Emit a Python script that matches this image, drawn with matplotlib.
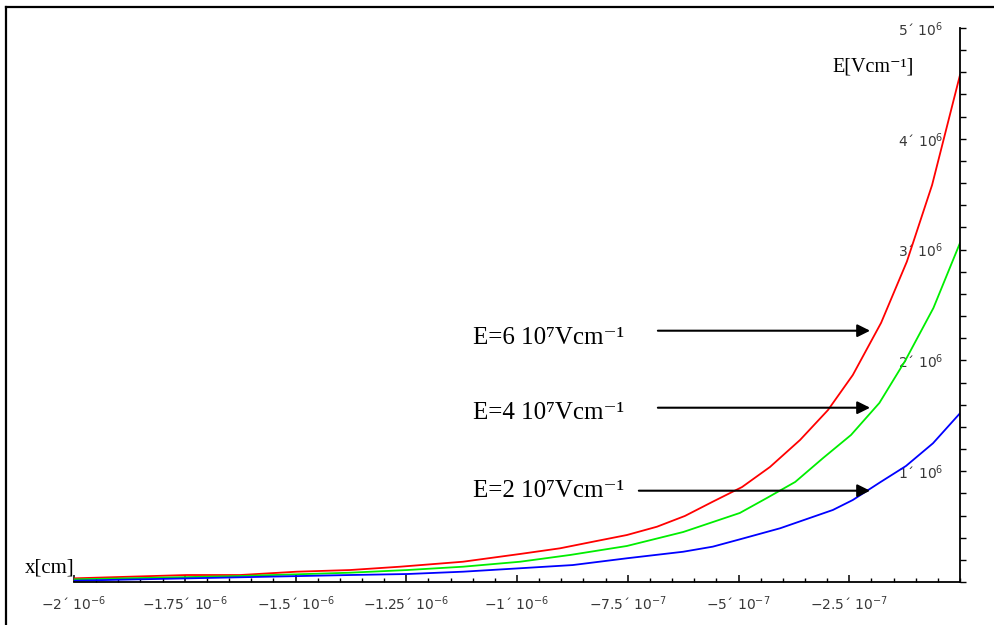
import matplotlib
matplotlib.use("Agg")
import matplotlib.pyplot as plt
from matplotlib.lines import Line2D
from matplotlib.ticker import MultipleLocator

# field profiles E(x) near the surface, three applied fields
x_red = [-2.000, -1.745, -1.625, -1.497, -1.377, -1.264, -1.122, -0.993, -0.903,
         -0.828, -0.752, -0.684, -0.621, -0.558, -0.492, -0.429, -0.361, -0.298,
         -0.242, -0.178, -0.120, -0.063, 0.0]
E_red = [0.033, 0.063, 0.063, 0.093, 0.108, 0.138, 0.183, 0.253, 0.304,
         0.364, 0.424, 0.499, 0.596, 0.725, 0.857, 1.038, 1.282, 1.552,
         1.868, 2.340, 2.891, 3.583, 4.576]

x_green = [-2.000, -1.625, -1.377, -1.248, -1.122, -0.993, -0.880, -0.752, -0.625,
           -0.497, -0.436, -0.372, -0.309, -0.246, -0.182, -0.124, -0.060, 0.0]
E_green = [0.024, 0.054, 0.084, 0.108, 0.138, 0.183, 0.244, 0.325, 0.451,
           0.623, 0.758, 0.903, 1.119, 1.327, 1.616, 1.995, 2.473, 3.060]

x_blue = [-2.000, -1.377, -1.248, -1.122, -0.993, -0.874, -0.752, -0.625, -0.558,
          -0.497, -0.406, -0.287, -0.242, -0.181, -0.122, -0.061, 0.0]
E_blue = [0.012, 0.063, 0.072, 0.093, 0.124, 0.153, 0.214, 0.273, 0.319,
          0.385, 0.485, 0.650, 0.740, 0.898, 1.047, 1.252, 1.523]

x_ticks = [-2e-6, -1.75e-6, -1.5e-6, -1.25e-6, -1e-6, -7.5e-7, -5e-7, -2.5e-7]
x_tick_text = ["\u22122\u00b4 10$^{-6}$", "\u22121.75\u00b4 10$^{-6}$",
               "\u22121.5\u00b4 10$^{-6}$", "\u22121.25\u00b4 10$^{-6}$",
               "\u22121\u00b4 10$^{-6}$", "\u22127.5\u00b4 10$^{-7}$",
               "\u22125\u00b4 10$^{-7}$", "\u22122.5\u00b4 10$^{-7}$"]
y_ticks = [1e6, 2e6, 3e6, 4e6, 5e6]
y_tick_text = ["1\u00b4 10$^{6}$", "2\u00b4 10$^{6}$", "3\u00b4 10$^{6}$",
               "4\u00b4 10$^{6}$", "5\u00b4 10$^{6}$"]

labels = ["E=6 10\u2077Vcm\u207b\u00b9", "E=4 10\u2077Vcm\u207b\u00b9", "E=2 10\u2077Vcm\u207b\u00b9"]

W, H = 994, 625
fig = plt.figure(figsize=(W / 100, H / 100), dpi=100)
ax = fig.add_axes([74 / W, (H - 582) / H, (960 - 74) / W, (582 - 28) / H])

ax.plot([v * 1e-6 for v in x_red], [v * 1e6 for v in E_red], color="#ff0000", lw=1.3)
ax.plot([v * 1e-6 for v in x_green], [v * 1e6 for v in E_green], color="#00ee00", lw=1.3)
ax.plot([v * 1e-6 for v in x_blue], [v * 1e6 for v in E_blue], color="#0000ff", lw=1.3)

ax.set_xlim(-2e-6, 0)
ax.set_ylim(0, 5e6)
for s in ("top", "left"):
    ax.spines[s].set_visible(False)
for s in ("bottom", "right"):
    ax.spines[s].set_linewidth(1.3)

# x axis: ticks point up, labels below
ax.set_xticks(x_ticks)
ax.set_xticklabels(x_tick_text)
ax.xaxis.set_minor_locator(MultipleLocator(5e-8))
ax.tick_params(axis="x", which="major", direction="in", length=5, width=1.1,
               pad=9, labelsize=10, labelcolor="#383838")
ax.tick_params(axis="x", which="minor", direction="in", length=3, width=1.0)

# y axis sits at x = 0; ticks stick out to the right, labels inside the plot
ax.yaxis.set_ticks_position("right")
ax.set_yticks(y_ticks)
ax.set_yticklabels(y_tick_text)
ax.yaxis.set_minor_locator(MultipleLocator(2e5))
ax.tick_params(axis="y", which="both", direction="out", length=4.5, width=1.0,
               right=True, labelright=True, left=False, labelleft=False)
ax.tick_params(axis="y", which="major", pad=-16.5, labelsize=10, labelcolor="#383838")
for t in ax.get_yticklabels():
    t.set_horizontalalignment("right")

serif = ["Liberation Serif", "DejaVu Serif"]
ax.text(-2.11e-6, 0.085e6, "x[cm]", fontsize=15, family=serif, ha="left", va="baseline",
        clip_on=False)
ax.text(-0.288e-6, 4.61e6, "E[Vcm\u207b\u00b9]", fontsize=14.5, family=serif, ha="left",
        va="baseline")

# labelled arrows pointing at each curve
text_y = [2.145e6, 1.468e6, 0.770e6]
arrow_y = [2.268e6, 1.573e6, 0.824e6]
arrow_x0 = [-0.682e-6, -0.682e-6, -0.725e-6]
for lab, ty, ay, ax0 in zip(labels, text_y, arrow_y, arrow_x0):
    ax.text(-1.099e-6, ty, lab, fontsize=18, family=serif, ha="left", va="baseline")
    ax.annotate("", xy=(-0.203e-6, ay), xytext=(ax0, ay),
                arrowprops=dict(arrowstyle="-|>", color="black", lw=1.5,
                                mutation_scale=19, shrinkA=0, shrinkB=0))

# outer frame (left and top edges)
fig.add_artist(Line2D([6 / W, 6 / W], [0, 1 - 7 / H], transform=fig.transFigure,
                      color="black", lw=1.6))
fig.add_artist(Line2D([6 / W, 1], [1 - 7 / H, 1 - 7 / H], transform=fig.transFigure,
                      color="black", lw=1.6))

fig.savefig("out.png", dpi=100)
